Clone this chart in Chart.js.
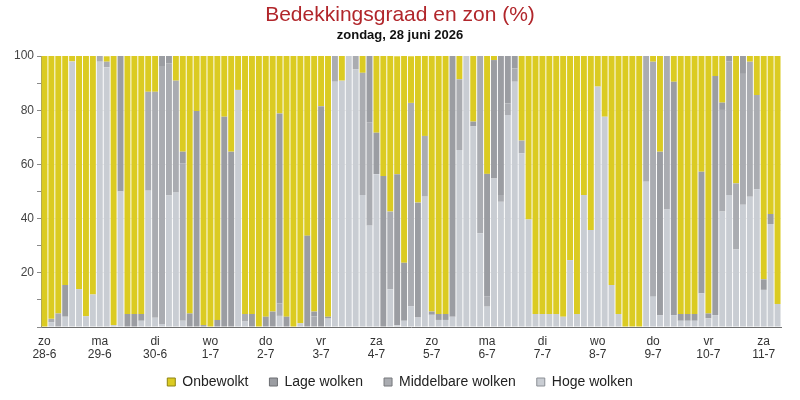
<!DOCTYPE html>
<html lang="nl">
<head>
  <meta charset="UTF-8">
  <title>Bedekkingsgraad en zon</title>
  <script src="https://cdn.jsdelivr.net/npm/chart.js@4.4.1/dist/chart.umd.min.js"></script>
  <style>
    html, body { margin: 0; padding: 0; background: #fff; }
  </style>
</head>
<body>
<canvas id="chart" width="800" height="400"></canvas>

<script>
  // days shown on the x axis, one bar every 3 hours
  const dayNames = ['zo', 'ma', 'di', 'wo', 'do', 'vr', 'za', 'zo', 'ma', 'di', 'wo', 'do', 'vr', 'za'];
  const dayDates = ['28-6', '29-6', '30-6', '1-7', '2-7', '3-7', '4-7', '5-7', '6-7', '7-7', '8-7', '9-7', '10-7', '11-7'];
  const barsPerDay = 8;
  const barCount = 107;

  const onbewolkt = [
    100, 97, 95, 84.5, 2, 86, 96, 88,
    0, 2, 99.3, 0, 95.2, 95.2, 95.2, 13.2,
    13.2, 0, 0, 9.1, 35.3, 95, 20.3, 99.3,
    100, 97.4, 22.4, 35.3, 12.5, 95.2, 95.2, 100,
    96.2, 94.3, 21.2, 96.2, 100, 98.6, 66.3, 94.3,
    18.5, 96.2, 0, 9.1, 0, 0, 6.2, 0,
    28.3, 44.3, 57.4, 43.5, 76.3, 17.2, 54.1, 29.5,
    94.3, 95.2, 95.2, 0, 8.6, 0, 24.2, 0,
    43.5, 1.5, 0, 0, 0, 31.2, 60.3, 95.2,
    95.2, 95.2, 95.2, 96.2, 75.3, 95.2, 51.3, 64.2,
    11.3, 22.4, 84.5, 95.2, 100, 100, 100, 0,
    2.1, 35.3, 0, 9.5, 95.2, 95.2, 95.2, 42.7,
    95, 7.4, 17.2, 0, 47, 0, 2.1, 14.4,
    82.4, 58.3, 91.5
  ];
  const lageWolken = [
    0, 0, 0, 11.7, 0, 0, 0, 0,
    0, 0, 0, 50, 4.8, 4.8, 2.5, 0,
    0, 3.7, 2.7, 0, 4.3, 5, 79.7, 0.7,
    0, 2.6, 77.6, 64.7, 0, 0, 4.8, 0,
    3.8, 5.7, 70.1, 3.8, 0, 0, 33.7, 1.8,
    81.5, 0.7, 0, 0, 0, 0, 0, 24.6,
    15.3, 55.7, 0, 55.8, 21.4, 0, 42.4, 0,
    1.2, 2.2, 2.2, 96.2, 0, 0, 1.8, 0,
    45.3, 43.7, 51.3, 17.5, 4.6, 0, 0, 0,
    0, 0, 0, 0, 0, 0, 0, 0,
    0, 0, 0, 0, 0, 0, 0, 0,
    0, 60.3, 0, 86.1, 2.5, 2.5, 2.5, 44.9,
    1.8, 88.2, 2.7, 2.1, 0, 6.6, 0, 0,
    3.9, 3.7, 0
  ];
  const middelbareWolken = [
    0, 1.2, 5, 0, 0, 0, 0, 0,
    2.1, 2.1, 0, 0, 0, 0, 0, 36.5,
    83.4, 95.2, 48.8, 41.3, 58.1, 0, 0, 0,
    0, 0, 0, 0, 0, 2.8, 0, 0,
    0, 0, 4.6, 0, 0, 0, 0, 3.9,
    0, 0, 9.5, 0, 0, 4.9, 45.1, 38,
    0, 0, 28.7, 0, 0, 75, 0, 22.4,
    0, 0, 0, 0, 26.1, 0, 0, 65.4,
    3.7, 0, 2.5, 4.3, 4.9, 4.7, 0, 0,
    0, 0, 0, 0, 0, 0, 0, 0,
    0, 0, 0, 0, 0, 0, 0, 46.4,
    86.7, 0, 56.6, 0, 0, 0, 0, 0,
    0, 0, 37.5, 49.2, 24.4, 48.3, 49.8, 34.8,
    0, 0, 0
  ];
  const hogeWolken = [
    0, 1.8, 0, 3.8, 98, 14, 4, 12,
    97.9, 95.8, 0.7, 50, 0, 0, 2.3, 50.3,
    3.4, 1.1, 48.5, 49.6, 2.3, 0, 0, 0,
    0, 0, 0, 0, 87.5, 2, 0, 0,
    0, 0, 4.1, 0, 0, 1.4, 0, 0,
    0, 3.1, 90.5, 90.9, 100, 95.1, 48.7, 37.4,
    56.4, 0, 13.9, 0.6, 2.3, 7.7, 3.5, 48.1,
    4.5, 2.6, 2.6, 3.8, 65.3, 100, 74, 34.6,
    7.5, 54.8, 46.2, 78.2, 90.5, 64.1, 39.7, 4.8,
    4.8, 4.8, 4.8, 3.8, 24.7, 4.8, 48.7, 35.8,
    88.7, 77.6, 15.5, 4.8, 0, 0, 0, 53.6,
    11.2, 4.4, 43.4, 4.4, 2.3, 2.3, 2.3, 12.4,
    3.2, 4.4, 42.6, 48.7, 28.6, 45.1, 48.1, 50.8,
    13.7, 38, 8.5
  ];

  // one label per bar, only the first bar of each day gets the day text
  const labels = [];
  for (let i = 0; i < barCount; i++) {
    const d = Math.floor(i / barsPerDay);
    labels.push(i % barsPerDay === 0 ? [dayNames[d], dayDates[d]] : '');
  }

  const font = "'Liberation Sans', Arial, sans-serif";

  // legend swatches have a thin darker edge
  const swatchEdge = {
    'Onbewolkt': '#8f8412',
    'Lage wolken': '#6d6f73',
    'Middelbare wolken': '#76787c',
    'Hoge wolken': '#8c9096'
  };

  // legend box is made a bit shorter (so the x labels are not clipped)
  // and its items are drawn a few px higher
  const legendNudge = {
    id: 'legendNudge',
    beforeInit(chart) {
      const legend = chart.legend;
      const fit = legend.fit;
      const draw = legend.draw;
      legend.fit = function () {
        fit.call(this);
        this.height -= 7;
      };
      legend.draw = function () {
        this.ctx.save();
        this.ctx.translate(0, -7);
        draw.call(this);
        this.ctx.restore();
      };
    }
  };

  function makeSet(label, data, color) {
    return {
      label: label,
      data: data,
      backgroundColor: color,
      borderWidth: 0,
      barPercentage: 0.86,
      categoryPercentage: 1.0
    };
  }

  new Chart(document.getElementById('chart'), {
    type: 'bar',
    data: {
      labels: labels,
      // stacked from the bottom up; legend is shown reversed
      datasets: [
        makeSet('Hoge wolken', hogeWolken, '#c9cdd3'),
        makeSet('Middelbare wolken', middelbareWolken, '#aaacb1'),
        makeSet('Lage wolken', lageWolken, '#9b9da2'),
        makeSet('Onbewolkt', onbewolkt, '#dbcb22')
      ]
    },
    options: {
      responsive: false,
      animation: false,
      layout: { padding: { left: 0, right: 0, top: 0, bottom: 1 } },
      scales: {
        x: {
          stacked: true,
          grid: { display: false, drawTicks: false },
          border: { display: true, color: '#6f6f6f', width: 1 },
          ticks: {
            autoSkip: false,
            maxRotation: 0,
            minRotation: 0,
            padding: 8,
            color: '#333',
            font: { family: font, size: 12, lineHeight: 1.1 }
          },
          afterFit(scale) { scale.height = 34; }
        },
        y: {
          stacked: true,
          min: 0,
          max: 100,
          ticks: {
            stepSize: 10,
            padding: 3,
            color: '#444',
            font: { family: font, size: 12 },
            callback: (v) => (v % 20 === 0 && v !== 0 ? v : '')
          },
          grid: {
            tickLength: 4,
            tickColor: '#8a8a8a',
            color: (ctx) => {
              const v = ctx.tick ? ctx.tick.value : 0;
              return v % 20 === 0 && v > 0 && v < 100 ? 'rgba(0,0,0,0.07)' : 'rgba(0,0,0,0)';
            }
          },
          border: { display: true, color: '#8a8a8a', width: 1 },
          afterFit(scale) { scale.width = 41; }
        },
        // empty strip on the right so the plot ends where the reference does
        spacer: {
          position: 'right',
          display: true,
          grid: { display: false, drawTicks: false },
          border: { display: false },
          ticks: { display: false },
          afterFit(scale) { scale.width = 19; }
        }
      },
      plugins: {
        title: {
          display: true,
          text: 'Bedekkingsgraad en zon (%)',
          color: '#b1262b',
          font: { family: font, size: 21, weight: 'normal' },
          padding: { top: 2.4, bottom: 0.4 }
        },
        subtitle: {
          display: true,
          text: 'zondag, 28 juni 2026',
          color: '#111',
          font: { family: font, size: 13, weight: 'bold' },
          padding: { top: 0, bottom: 12.4 }
        },
        legend: {
          position: 'bottom',
          reverse: true,
          labels: {
            boxWidth: 8,
            boxHeight: 8,
            padding: 21,
            color: '#222',
            font: { family: font, size: 14 },
            generateLabels(chart) {
              const items = Chart.defaults.plugins.legend.labels.generateLabels(chart);
              items.forEach((it) => {
                it.lineWidth = 1;
                it.strokeStyle = swatchEdge[it.text];
              });
              return items;
            }
          }
        },
        tooltip: { enabled: false }
      }
    },
    plugins: [legendNudge]
  });
</script>
</body>
</html>
